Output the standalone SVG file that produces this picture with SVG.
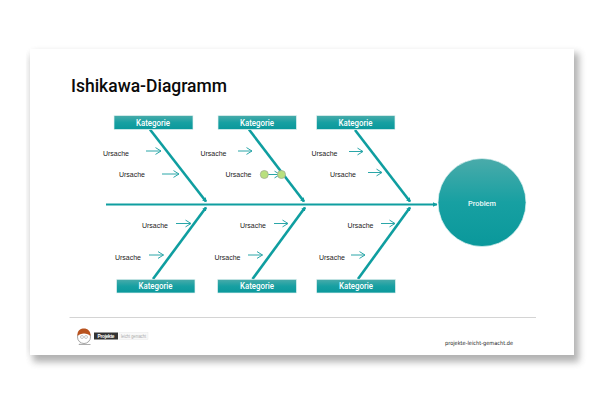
<svg xmlns="http://www.w3.org/2000/svg" width="600" height="400" viewBox="0 0 600 400">
<defs>
<linearGradient id="boxFill" x1="0" y1="0" x2="0" y2="1"><stop offset="0" stop-color="#4aabaa"/><stop offset="0.5" stop-color="#17a0a2"/><stop offset="1" stop-color="#0a989b"/></linearGradient>
<filter id="soft" x="-10%" y="-10%" width="120%" height="125%"><feGaussianBlur stdDeviation="3.500"/></filter>
<marker id="smallHead" markerUnits="userSpaceOnUse" markerWidth="9" markerHeight="10" refX="7.500" refY="5" orient="auto"><path d="M2 1.600 L7.500 5 L2 8.400" fill="none" stroke="#2aa6a8" stroke-width="1"/></marker>
<marker id="boneHead" markerUnits="userSpaceOnUse" markerWidth="6" markerHeight="6" refX="3.500" refY="3" orient="auto"><path d="M0 0.600 L4.500 3 L0 5.400 Z" fill="#0f9ea0"/></marker>
<marker id="spineHead" markerUnits="userSpaceOnUse" markerWidth="6" markerHeight="6" refX="4" refY="3" orient="auto"><path d="M0 0.800 L4.500 3 L0 5.200 Z" fill="#0f9ea0"/></marker>
</defs>
<style>
.cat{fill:url(#boxFill);stroke:#e4f3f3;stroke-width:.7}
.catText{font:500 8.500px Roboto,"Liberation Sans",sans-serif;fill:#fff;text-anchor:middle}
.cause{font:7.600px "Liberation Sans",Arial,sans-serif;fill:#1a1a1a}
.bone{stroke:#0f9ea0;stroke-width:2.600;fill:none;marker-end:url(#boneHead)}
.small{stroke:#2aa6a8;stroke-width:1;fill:none;marker-end:url(#smallHead)}
.dot{fill:#b9e07e;stroke:#a3ad93;stroke-width:.8}
</style>

<rect x="33" y="53" width="546" height="309" fill="#555" opacity=".45" filter="url(#soft)"/>
<rect x="28" y="56" width="12" height="298" fill="#999" opacity=".2" filter="url(#soft)"/>
<rect x="30" y="49" width="544" height="306" fill="#fff"/>

<text x="71" y="92" font-family="Roboto,'Liberation Sans',sans-serif" font-weight="500" font-size="18.500" textLength="156" lengthAdjust="spacingAndGlyphs" fill="#0a0a0a">Ishikawa-Diagramm</text>

<g id="connectors">
<path class="bone" style="stroke-width:2.200;marker-end:url(#spineHead)" d="M106 204.500H437"/>
<path class="bone" d="M150 129.500L206 201.500"/>
<path class="bone" d="M249 129.500L304 201.500"/>
<path class="bone" d="M355 130L410 201.500"/>
<path class="bone" d="M153 279L206 207.500"/>
<path class="bone" d="M252.500 279L305 207.500"/>
<path class="bone" d="M358 279L410 207.500"/>
<path class="small" d="M146 151H161"/>
<path class="small" d="M162 174H179"/>
<path class="small" d="M238 151H252"/>
<path class="small" d="M265 174.500H280"/>
<path class="small" d="M349 151.500H363"/>
<path class="small" d="M368 172.500H382"/>
<path class="small" d="M176 223.500H191"/>
<path class="small" d="M149 255H163.500"/>
<path class="small" d="M274 223.500H288"/>
<path class="small" d="M248 255H262.500"/>
<path class="small" d="M381 223.500H395"/>
<path class="small" d="M351 255H365"/>
</g>

<g id="handles">
<circle class="dot" cx="264.300" cy="174.500" r="4"/>
<circle class="dot" cx="281.500" cy="174.500" r="4"/>
</g>

<g id="cat-top-1"><rect class="cat" x="114" y="115.500" width="79" height="14"/><text class="catText" x="153" y="125.500" textLength="34" lengthAdjust="spacingAndGlyphs">Kategorie</text></g>
<g id="cat-top-2"><rect class="cat" x="218" y="115.500" width="78.500" height="14"/><text class="catText" x="257" y="125.500" textLength="34" lengthAdjust="spacingAndGlyphs">Kategorie</text></g>
<g id="cat-top-3"><rect class="cat" x="316.500" y="115.500" width="78.500" height="14"/><text class="catText" x="355.500" y="125.500" textLength="34" lengthAdjust="spacingAndGlyphs">Kategorie</text></g>
<g id="cat-bottom-1"><rect class="cat" x="116.500" y="279.300" width="78.500" height="13.700"/><text class="catText" x="155.500" y="289" textLength="34" lengthAdjust="spacingAndGlyphs">Kategorie</text></g>
<g id="cat-bottom-2"><rect class="cat" x="217.500" y="279.300" width="79" height="13.700"/><text class="catText" x="257" y="289" textLength="34" lengthAdjust="spacingAndGlyphs">Kategorie</text></g>
<g id="cat-bottom-3"><rect class="cat" x="316.500" y="279.300" width="79" height="13.700"/><text class="catText" x="356" y="289" textLength="34" lengthAdjust="spacingAndGlyphs">Kategorie</text></g>

<g id="problem"><circle cx="482" cy="202.500" r="44" fill="url(#boxFill)" stroke="#e4f3f3" stroke-width=".7"/><text x="482" y="205.500" text-anchor="middle" font-family="Roboto,'Liberation Sans',sans-serif" font-weight="500" font-size="8" textLength="28" lengthAdjust="spacingAndGlyphs" fill="#eefafa">Problem</text></g>

<g id="causes">
<text class="cause" x="103" y="155.500" textLength="26" lengthAdjust="spacingAndGlyphs">Ursache</text>
<text class="cause" x="119" y="177" textLength="26" lengthAdjust="spacingAndGlyphs">Ursache</text>
<text class="cause" x="200.500" y="155.500" textLength="26" lengthAdjust="spacingAndGlyphs">Ursache</text>
<text class="cause" x="225.500" y="177" textLength="26" lengthAdjust="spacingAndGlyphs">Ursache</text>
<text class="cause" x="311.500" y="155.500" textLength="26" lengthAdjust="spacingAndGlyphs">Ursache</text>
<text class="cause" x="330" y="176.500" textLength="26" lengthAdjust="spacingAndGlyphs">Ursache</text>
<text class="cause" x="142" y="227.500" textLength="26" lengthAdjust="spacingAndGlyphs">Ursache</text>
<text class="cause" x="115" y="259.500" textLength="26" lengthAdjust="spacingAndGlyphs">Ursache</text>
<text class="cause" x="240" y="228" textLength="26" lengthAdjust="spacingAndGlyphs">Ursache</text>
<text class="cause" x="214.500" y="259.500" textLength="26" lengthAdjust="spacingAndGlyphs">Ursache</text>
<text class="cause" x="347.500" y="228" textLength="26" lengthAdjust="spacingAndGlyphs">Ursache</text>
<text class="cause" x="319" y="259.500" textLength="26" lengthAdjust="spacingAndGlyphs">Ursache</text>
</g>

<path d="M69.500 317.500H536" stroke="#d4d4d4" stroke-width="1" fill="none"/>

<g id="logo">
<circle cx="84" cy="337" r="6.500" fill="#fff" stroke="#666" stroke-width=".6"/>
<path d="M77.500 336C77 330 81 328.500 84 328.500C87.500 328.500 91 331 90.500 336C88 332.500 80 332.500 77.500 336Z" fill="#b8521e"/>
<circle cx="82" cy="337" r="1.500" fill="none" stroke="#777" stroke-width=".4"/>
<circle cx="86" cy="337" r="1.500" fill="none" stroke="#777" stroke-width=".4"/>
<path d="M80 343.500L79 344.500H90.500" fill="none" stroke="#777" stroke-width=".6"/>
<rect x="94" y="332.500" width="24" height="7" fill="#333"/>
<text x="106" y="337.800" text-anchor="middle" font-family="'Liberation Sans',sans-serif" font-weight="700" font-size="4.800" textLength="17" fill="#fff">Projekte</text>
<rect x="119" y="332.500" width="29" height="7" fill="#f8f8f8" stroke="#e4e4e4" stroke-width=".4"/>
<text x="133.500" y="337.800" text-anchor="middle" font-family="'Liberation Sans',sans-serif" font-size="4.800" textLength="25" lengthAdjust="spacingAndGlyphs" fill="#aaa">leicht gemacht</text>
</g>

<text x="445" y="345" font-family="'DejaVu Sans',sans-serif" font-size="5.600" textLength="68" lengthAdjust="spacingAndGlyphs" fill="#222">projekte-leicht-gemacht.de</text>
</svg>
